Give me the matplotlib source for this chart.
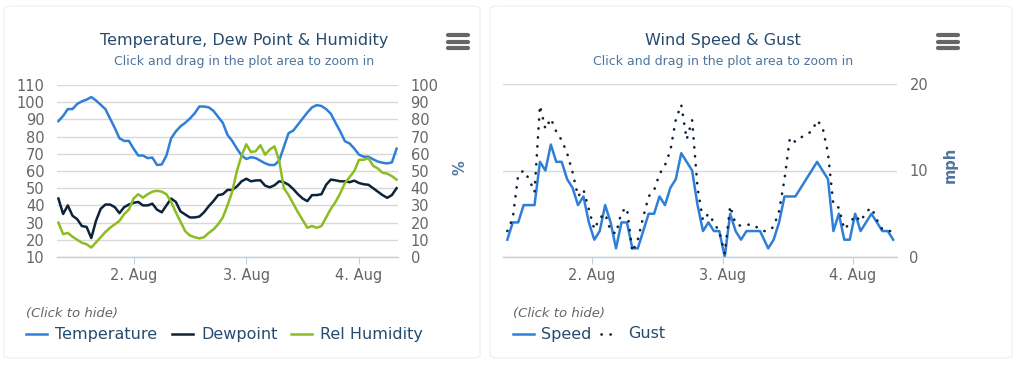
import matplotlib
matplotlib.use("Agg")
import matplotlib.pyplot as plt
from matplotlib.lines import Line2D
from matplotlib.patches import FancyBboxPatch

# hours relative to 2 Aug 00:00
hours = list(range(-16, 57))

temperature = [89, 92, 96, 96, 99, 100.5, 101.5, 103, 101, 98.5, 96, 90.5, 85, 79, 77.5, 77.5,
               73, 69, 69, 67.5, 67.8, 63.5, 63.8, 69, 79, 83, 86, 88, 90.5, 93.5, 97.5, 97.5,
               97, 95, 91.5, 88, 81, 77.5, 73, 69, 67, 68, 67.5, 66, 64.5, 63.5, 63.5, 66,
               74, 82, 83.5, 87, 90.5, 94, 97, 98.3, 97.8, 96, 93.3, 88, 83, 77.3, 76, 73,
               69.5, 68.3, 68.3, 66.8, 65.5, 64.8, 64.4, 65, 73]
dewpoint = [44, 35, 40, 34, 32, 28, 27.5, 21, 31, 38, 40.5, 40.5, 39, 35.5, 39, 40.5,
            41.5, 42, 40, 40, 41, 37.5, 36, 40, 44, 42, 36.5, 34.7, 33, 33, 33.5, 36,
            39.5, 42.5, 46, 46.5, 49, 49, 51, 54, 55.5, 54, 54.5, 54.6, 51.5, 50.5, 51.7, 54,
            53.5, 52, 49.5, 46.5, 44, 42.5, 46, 46, 46.5, 52, 55, 54.6, 54, 54, 53.5, 54.4,
            53, 52.3, 52, 50, 48, 46, 44.4, 46, 50]
humidity = [20, 13.3, 14, 11.8, 10, 8.3, 7.4, 5.5, 8.5, 11.5, 14.5, 17, 19, 21, 25, 27.5,
            34, 36.5, 34.5, 36.5, 38, 38.5, 38, 36.5, 32, 26, 20.5, 15, 12.5, 11.5, 10.8, 11.5,
            14, 16, 19, 23, 30, 38, 50, 59, 65.5, 61, 61.5, 65, 59.5, 62.5, 64.3, 56,
            40, 36, 31, 26, 21.5, 17, 18, 17, 18, 23, 28, 32, 37, 43, 46.5, 50,
            56.5, 56.5, 57.5, 53, 51.5, 49, 48.5, 47, 45]

# wind readings are taken ~25 min past the hour
wind_offset = 0.4
speed_hours = [-16, -15, -14, -13, -11, -10, -9, -8, -7, -6, -5, -4, -3, -2, -1, 0, 1, 2, 3, 4,
               5, 6, 7, 8, 9, 10, 11, 12, 13, 14, 15, 16, 17, 18, 19, 20, 21, 22, 23, 24,
               25, 26, 27, 28, 30.5, 32, 33, 34, 35, 37, 41, 43, 44, 45, 46, 47, 48, 49, 51, 53,
               54, 55]
speed = [2, 4, 4, 6, 6, 11, 10, 13, 11, 11, 9, 8, 6, 7, 4, 2, 3, 6, 4, 1,
         4, 4, 1, 1, 3, 5, 5, 7, 6, 8, 9, 12, 11, 10, 6, 3, 4, 3, 3, 0,
         5, 3, 2, 3, 3, 1, 2, 4, 7, 7, 11, 9, 3, 5, 2, 2, 5, 3, 5, 3,
         3, 2]
gust_hours = list(range(-16, 56))
gust = [3, 4.5, 9.5, 10, 9, 7.5, 17.5, 14.8, 16, 14.5, 13.5, 12, 9.8, 7, 7.8, 5.5,
        3.2, 4.5, 5, 3, 2.7, 5.2, 5.7, 0.6, 2, 4.6, 7, 7.7, 9.6, 10.6, 12.3, 15.9,
        17.6, 13.6, 15.8, 8, 4.2, 5, 4, 2.9, 0.4, 5.9, 3.8, 3.6, 3.7, 3.8, 3.4, 3,
        3, 3.5, 5.3, 9, 13.8, 13.3, 13.8, 14.2, 14.5, 15.8, 15, 12, 6, 5.7, 3.2, 3.9,
        4.8, 4.1, 5.2, 5.7, 4.3, 3.2, 3, 3]

day_ticks = [0, 24, 48]
day_labels = ["2. Aug", "3. Aug", "4. Aug"]

BLUE = "#2f7ed8"
NAVY = "#0d233a"
GREEN = "#8bbc21"
TITLE_C = "#274b6d"
SUB_C = "#4d759e"
LABEL_C = "#666666"
GRID_C = "#d8d8d8"
AXIS_C = "#c0d0e0"

W, H = 1024, 376
fig = plt.figure(figsize=(W / 100, H / 100), dpi=100)
fig.patch.set_facecolor("white")


def fx(px):
    return px / W


def fy(py):
    return 1 - py / H


def box(x0, y0, x1, y1):
    return [fx(x0), fy(y1), fx(x1) - fx(x0), fy(y0) - fy(y1)]


# cards
for x0, x1 in [(4, 480), (490, 1012)]:
    fig.patches.append(FancyBboxPatch((fx(x0), fy(358)), fx(x1) - fx(x0), fy(6) - fy(358),
                                      boxstyle="round,pad=0,rounding_size=0.008",
                                      transform=fig.transFigure, facecolor="white",
                                      edgecolor="#f2f2f2", lw=1, zorder=-5))


def style_axis(ax):
    for s in ["top", "left", "right"]:
        ax.spines[s].set_visible(False)
    ax.spines["bottom"].set_color(AXIS_C)
    ax.spines["bottom"].set_linewidth(1)
    ax.grid(axis="y", color=GRID_C, lw=1)
    ax.set_axisbelow(True)
    ax.tick_params(axis="y", length=0, labelsize=10.5, labelcolor=LABEL_C, pad=9)
    ax.tick_params(axis="x", length=5, color=AXIS_C, labelsize=10.5, labelcolor=LABEL_C, pad=3)
    ax.set_xticks(day_ticks)
    ax.set_xticklabels(day_labels)
    ax.set_facecolor("none")


def menu_icon(xc):
    for yy in [35, 41.5, 48]:
        fig.lines.append(Line2D([fx(xc - 10), fx(xc + 10)], [fy(yy), fy(yy)],
                                transform=fig.transFigure, color="#666666", lw=3,
                                solid_capstyle="round"))


# ---- left chart
ax = fig.add_axes(box(57, 85, 398, 257))
style_axis(ax)
ax.plot(hours, temperature, color=BLUE, lw=1.8)
ax.plot(hours, dewpoint, color=NAVY, lw=1.8)
ax.set_xlim(-16.3, 56.3)
ax.set_ylim(10, 110)
ax.set_yticks(range(10, 111, 10))

ax2 = ax.twinx()
ax2.plot(hours, humidity, color=GREEN, lw=1.8)
ax2.set_ylim(0, 100)
ax2.set_yticks(range(0, 101, 10))
for s in ax2.spines.values():
    s.set_visible(False)
ax2.tick_params(axis="y", length=0, labelsize=10.5, labelcolor=LABEL_C, pad=9)

fig.text(fx(244), fy(41), "Temperature, Dew Point & Humidity", ha="center", va="center",
         fontsize=11.5, color=TITLE_C)
fig.text(fx(244), fy(62), "Click and drag in the plot area to zoom in", ha="center",
         va="center", fontsize=9, color=SUB_C)
fig.text(fx(460), fy(168), "%", rotation=90, ha="center", va="center", fontsize=10.5,
         color=SUB_C, fontweight="bold")
menu_icon(458)

# ---- right chart
ax3 = fig.add_axes(box(503, 84, 897, 257))
style_axis(ax3)
ax3.yaxis.tick_right()
ax3.plot([h + wind_offset for h in speed_hours], speed, color=BLUE, lw=1.8)
ax3.plot([h + wind_offset for h in gust_hours], gust, color=NAVY, lw=1.9,
         linestyle=(0, (0.1, 3.3)), dash_capstyle="round")
ax3.set_xlim(-16.4, 56.1)
ax3.set_ylim(0, 20)
ax3.set_yticks([0, 10, 20])

fig.text(fx(723), fy(41), "Wind Speed & Gust", ha="center", va="center",
         fontsize=11.5, color=TITLE_C)
fig.text(fx(723), fy(62), "Click and drag in the plot area to zoom in", ha="center",
         va="center", fontsize=9, color=SUB_C)
fig.text(fx(950), fy(165), "mph", rotation=90, ha="center", va="center", fontsize=10.5,
         color=SUB_C, fontweight="bold")
menu_icon(948)

# ---- legends
def legend_item(x_line, x_text, label, color, dotted=False):
    if dotted:
        fig.lines.append(Line2D([fx(x_line), fx(x_line + 10)], [fy(334), fy(334)],
                                transform=fig.transFigure, color=color, lw=1.9,
                                linestyle=(0, (0.1, 3.3)), dash_capstyle="round"))
    else:
        fig.lines.append(Line2D([fx(x_line), fx(x_line + 21)], [fy(334), fy(334)],
                                transform=fig.transFigure, color=color, lw=1.8))
    fig.text(fx(x_text), fy(334), label, ha="left", va="center", fontsize=11.5, color=TITLE_C)


fig.text(fx(26), fy(313), "(Click to hide)", ha="left", va="center", fontsize=9.5,
         color=LABEL_C, style="italic")
legend_item(26, 55, "Temperature", BLUE)
legend_item(172, 201, "Dewpoint", NAVY)
legend_item(291, 320, "Rel Humidity", GREEN)

fig.text(fx(513), fy(313), "(Click to hide)", ha="left", va="center", fontsize=9.5,
         color=LABEL_C, style="italic")
legend_item(513, 541, "Speed", BLUE)
legend_item(601, 628, "Gust", NAVY, dotted=True)

fig.savefig("out.png", dpi=100, facecolor="white")
